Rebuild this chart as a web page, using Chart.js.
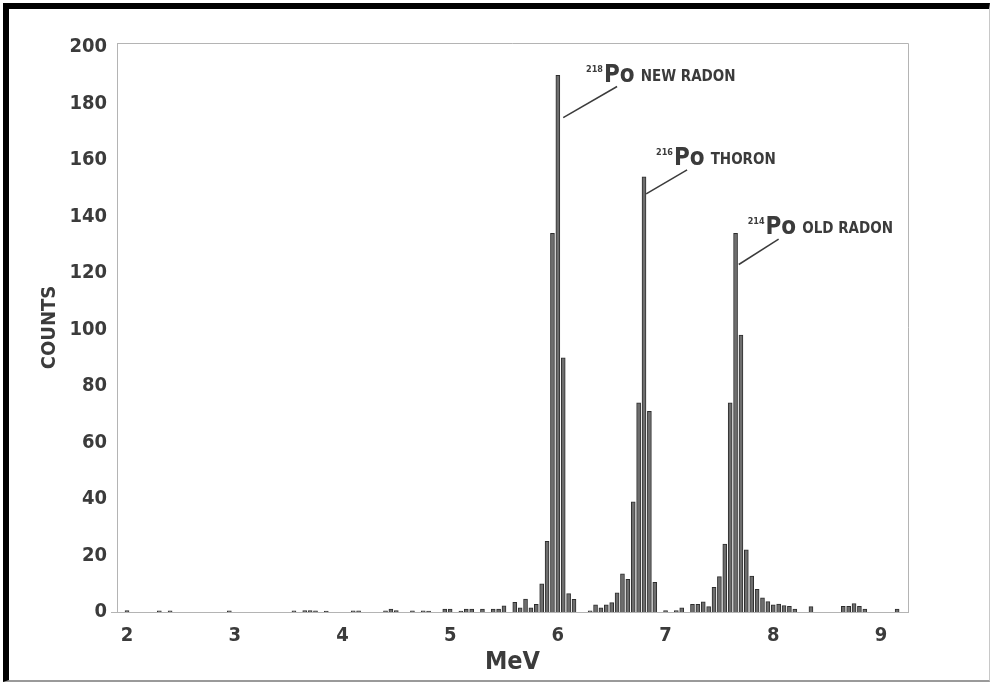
<!DOCTYPE html>
<html>
<head>
<meta charset="utf-8">
<title>Alpha spectrum</title>
<script src="https://cdn.jsdelivr.net/npm/chart.js@4.4.1/dist/chart.umd.min.js"></script>
<style>
  html, body { margin: 0; padding: 0; background: #fff; }
  #wrap { position: relative; width: 994px; height: 686px; overflow: hidden; }
  #frame {
    position: absolute; left: 3px; top: 3px; width: 987px; height: 679px;
    border-top: 6px solid #000; border-left: 6px solid #000;
    border-bottom: 2px solid #9a9a9a; border-right: 1px solid #c8c8c8;
    box-sizing: border-box;
  }
  #spectrum { position: absolute; left: 0; top: 0; }
</style>
</head>
<body>
<div id="wrap">
  <div id="frame"></div>
  <canvas id="spectrum" width="994" height="686"></canvas>
</div>
<script>
// channel energies (MeV) that have counts, and the counts in each channel
const energies = [
  2.00, 2.30, 2.40, 2.95, 3.55, 3.65, 3.70, 3.75, 3.85, 4.10, 4.15,
  4.40, 4.45, 4.50, 4.65, 4.75, 4.80, 4.95, 5.00, 5.10, 5.15, 5.20,
  5.30, 5.40, 5.45, 5.50, 5.60, 5.65, 5.70, 5.75, 5.80, 5.85, 5.90,
  5.95, 6.00, 6.05, 6.10, 6.15, 6.30, 6.35, 6.40, 6.45, 6.50, 6.55,
  6.60, 6.65, 6.70, 6.75, 6.80, 6.85, 6.90, 7.00, 7.10, 7.15, 7.25,
  7.30, 7.35, 7.40, 7.45, 7.50, 7.55, 7.60, 7.65, 7.70, 7.75, 7.80,
  7.85, 7.90, 7.95, 8.00, 8.05, 8.10, 8.15, 8.20, 8.35, 8.65, 8.70,
  8.75, 8.80, 8.85, 9.15
];
const counts = [
  0.5, 0.4, 0.4, 0.4, 0.4, 0.5, 0.5, 0.4, 0.3, 0.4, 0.4,
  0.4, 1.0, 0.5, 0.4, 0.4, 0.3, 1.0, 1.0, 0.3, 1.0, 1.0,
  1.0, 1.0, 1.0, 2.2, 3.4, 1.5, 4.6, 1.5, 2.7, 10, 25,
  134, 190, 90, 6.5, 4.5, 0.4, 2.5, 1.5, 2.5, 3.3, 6.8,
  13.5, 11.6, 39, 74, 154, 71, 10.5, 0.5, 0.5, 1.5, 2.7,
  2.7, 3.6, 1.9, 8.7, 12.5, 24, 74, 134, 98, 22, 12.7,
  8, 5, 3.7, 2.5, 2.8, 2.3, 2, 1, 1.9, 2, 2,
  3, 2, 1, 1
];
const xTicks = [2, 3, 4, 5, 6, 7, 8, 9];
const yTicks = [0, 20, 40, 60, 80, 100, 120, 140, 160, 180, 200];

// peak callouts: isotope mass number, name, leader line ends in (MeV, counts)
const callouts = [
  { mass: '218', name: 'NEW RADON', from: [6.05, 175], to: [6.55, 186] },
  { mass: '216', name: 'THORON',    from: [6.82, 148], to: [7.20, 156.5] },
  { mass: '214', name: 'OLD RADON', from: [7.68, 123], to: [8.05, 132] }
];

const ink = '#3b3b3b';
const narrow = "'Liberation Sans Narrow', 'DejaVu Sans Condensed', 'Arial Narrow', sans-serif";
const condensed = "'DejaVu Sans Condensed', 'Liberation Sans Narrow', sans-serif";

const boxPlugin = {
  id: 'plotBox',
  beforeDatasetsDraw(chart) {
    const { ctx, chartArea: a } = chart;
    ctx.save();
    ctx.strokeStyle = '#b4b4b4';
    ctx.lineWidth = 1;
    ctx.beginPath();
    ctx.moveTo(a.left, a.top + 0.5);
    ctx.lineTo(a.right + 0.5, a.top + 0.5);
    ctx.lineTo(a.right + 0.5, a.bottom);
    ctx.stroke();
    // short tick left of the axis at zero
    ctx.beginPath();
    ctx.moveTo(a.left - 6, a.bottom + 0.5);
    ctx.lineTo(a.left, a.bottom + 0.5);
    ctx.stroke();
    ctx.restore();
  }
};

const calloutPlugin = {
  id: 'callouts',
  afterDatasetsDraw(chart) {
    const { ctx, scales: { x, y } } = chart;
    ctx.save();
    callouts.forEach(c => {
      const x0 = x.getPixelForValue(c.from[0]), y0 = y.getPixelForValue(c.from[1]);
      const x1 = x.getPixelForValue(c.to[0]), y1 = y.getPixelForValue(c.to[1]);
      ctx.strokeStyle = ink;
      ctx.lineWidth = 1.5;
      ctx.beginPath();
      ctx.moveTo(x0, y0);
      ctx.lineTo(x1, y1);
      ctx.stroke();

      let tx = x1 - 31;
      const base = y1 - 5;
      ctx.fillStyle = ink;
      ctx.textBaseline = 'alphabetic';
      ctx.textAlign = 'left';
      ctx.font = 'bold 9px ' + condensed;
      ctx.fillText(c.mass, tx, base - 10);
      tx += ctx.measureText(c.mass).width + 1;
      ctx.font = 'bold 24px ' + narrow;
      ctx.fillText('Po', tx, base);
      tx += ctx.measureText('Po').width + 6;
      ctx.font = 'bold 15px ' + narrow;
      ctx.fillText(c.name, tx, base - 1);
    });
    ctx.restore();
  }
};

new Chart(document.getElementById('spectrum'), {
  type: 'bar',
  data: {
    datasets: [{
      data: energies.map((e, i) => ({ x: e, y: counts[i] })),
      backgroundColor: '#6e6e6e',
      borderColor: '#2e2e2e',
      borderWidth: { left: 1, right: 1, top: 1, bottom: 0 },
      borderSkipped: 'start',
      barThickness: 4
    }]
  },
  options: {
    responsive: false,
    animation: false,
    devicePixelRatio: 1,
    layout: { padding: { left: 0, top: 43, right: 86, bottom: 0 } },
    plugins: { legend: { display: false }, tooltip: { enabled: false } },
    scales: {
      x: {
        type: 'linear',
        offset: false,
        min: 1.907,
        max: 9.251,
        afterBuildTicks: s => { s.ticks = xTicks.map(v => ({ value: v })); },
        afterFit: s => { s.height = 74; },
        grid: { display: false, drawTicks: false },
        border: { color: '#b4b4b4', width: 1 },
        ticks: {
          color: ink,
          padding: 12,
          font: { family: condensed, size: 20, weight: 'bold' },
          callback: v => v
        },
        title: {
          display: true,
          text: 'MeV',
          color: ink,
          font: { family: narrow, size: 25, weight: 'bold' },
          padding: { top: 0, bottom: 9 }
        }
      },
      y: {
        min: 0,
        max: 201.4,
        afterBuildTicks: s => { s.ticks = yTicks.map(v => ({ value: v })); },
        afterFit: s => { s.width = 117; },
        grid: { display: false, drawTicks: false },
        border: { color: '#b4b4b4', width: 1 },
        ticks: {
          color: ink,
          padding: 10,
          font: { family: condensed, size: 20, weight: 'bold' }
        },
        title: {
          display: true,
          text: 'COUNTS',
          color: ink,
          font: { family: narrow, size: 20, weight: 'bold' },
          padding: { top: 38, bottom: 0 }
        }
      }
    }
  },
  plugins: [boxPlugin, calloutPlugin]
});
</script>
</body>
</html>
